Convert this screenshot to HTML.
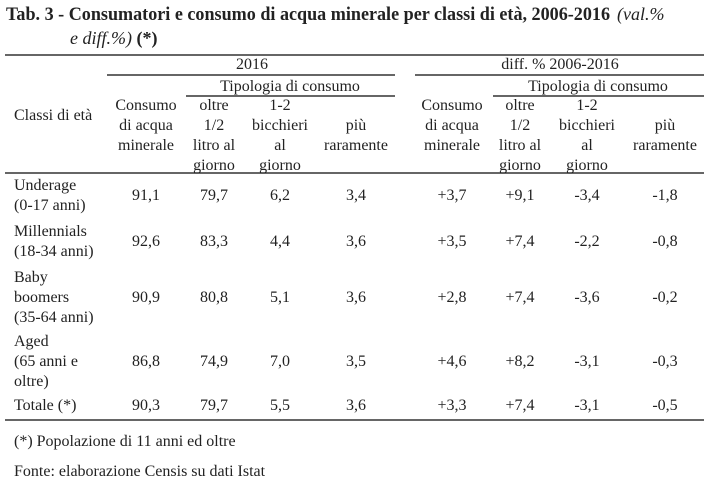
<!DOCTYPE html>
<html><head><meta charset="utf-8"><style>
html,body{margin:0;padding:0;background:#fff;}
svg{display:block;font-family:"Liberation Serif",serif;}
text{fill:#222;}
</style></head><body>
<svg width="714" height="497" viewBox="0 0 714 497" id="tbl">
<text x="6" y="20" font-size="19" font-weight="bold" textLength="604" lengthAdjust="spacingAndGlyphs">Tab. 3 - Consumatori e consumo di acqua minerale per classi di età, 2006-2016</text>
<text x="617" y="20" font-size="18" font-style="italic">(val.%</text>
<text x="70" y="44" font-size="18"><tspan font-style="italic">e diff.%)</tspan> <tspan font-weight="bold">(*)</tspan></text>
<g stroke="#333" stroke-width="1.5">
<line x1="5" y1="55" x2="704" y2="55"/>
<line x1="107" y1="75" x2="395" y2="75"/>
<line x1="415" y1="75" x2="704" y2="75"/>
<line x1="186" y1="96" x2="395" y2="96"/>
<line x1="493" y1="96" x2="704" y2="96"/>
<line x1="5" y1="173" x2="704" y2="173"/>
<line x1="5" y1="420" x2="704" y2="420"/>
</g>
<g font-size="16" text-anchor="middle">
<text x="252" y="69">2016</text>
<text x="560" y="69">diff. % 2006-2016</text>
<text x="290" y="91">Tipologia di consumo</text>
<text x="598" y="91">Tipologia di consumo</text>
</g>
<text x="14" y="120" font-size="16">Classi di età</text>
<g id="hdr" font-size="16" text-anchor="middle"></g>
<g id="rows" font-size="16"></g>
<text x="14" y="446" font-size="16">(*) Popolazione di 11 anni ed oltre</text>
<text x="14" y="476" font-size="16">Fonte: elaborazione Censis su dati Istat</text>
</svg>
<script>
const colX=[146,214,280,356,452,520,587,665];
const headers=[["Consumo","di acqua","minerale"],["oltre","1/2","litro al","giorno"],["1-2","bicchieri","al","giorno"],["","più","raramente"]];
const rowLabels=[["Underage","(0-17 anni)"],["Millennials","(18-34 anni)"],["Baby","boomers","(35-64 anni)"],["Aged","(65 anni e","oltre)"],["Totale (*)"]];
const vals2016=[["91,1","79,7","6,2","3,4"],["92,6","83,3","4,4","3,6"],["90,9","80,8","5,1","3,6"],["86,8","74,9","7,0","3,5"],["90,3","79,7","5,5","3,6"]];
const valsDiff=[["+3,7","+9,1","-3,4","-1,8"],["+3,5","+7,4","-2,2","-0,8"],["+2,8","+7,4","-3,6","-0,2"],["+4,6","+8,2","-3,1","-0,3"],["+3,3","+7,4","-3,1","-0,5"]];
const NS="http://www.w3.org/2000/svg";
const hdr=document.getElementById('hdr');
for(let c=0;c<8;c++){
  const h=headers[c%4];
  h.forEach((s,i)=>{
    const t=document.createElementNS(NS,'text');
    
    
    t.setAttribute('x',colX[c]);t.setAttribute('y',110+i*20);t.textContent=s;hdr.appendChild(t);
  });
}
const rows=document.getElementById('rows');
let y=174;
rowLabels.forEach((lab,r)=>{
  const n=lab.length;
  const lh=20;
  const top=y;
  lab.forEach((s,i)=>{
    const t=document.createElementNS(NS,'text');
    
    
    t.setAttribute('x',14);t.setAttribute('y',top+16+i*lh);t.textContent=s;rows.appendChild(t);
  });
  const vy=top+16+(n-1)*lh/2;
  const all=vals2016[r].concat(valsDiff[r]);
  all.forEach((v,c)=>{
    const t=document.createElementNS(NS,'text');
    
    
    t.setAttribute('x',colX[c]);t.setAttribute('y',vy);t.setAttribute('text-anchor','middle');t.textContent=v;rows.appendChild(t);
  });
  y+= n*lh+ (n===2?6:4);
});
</script>
</body></html>
